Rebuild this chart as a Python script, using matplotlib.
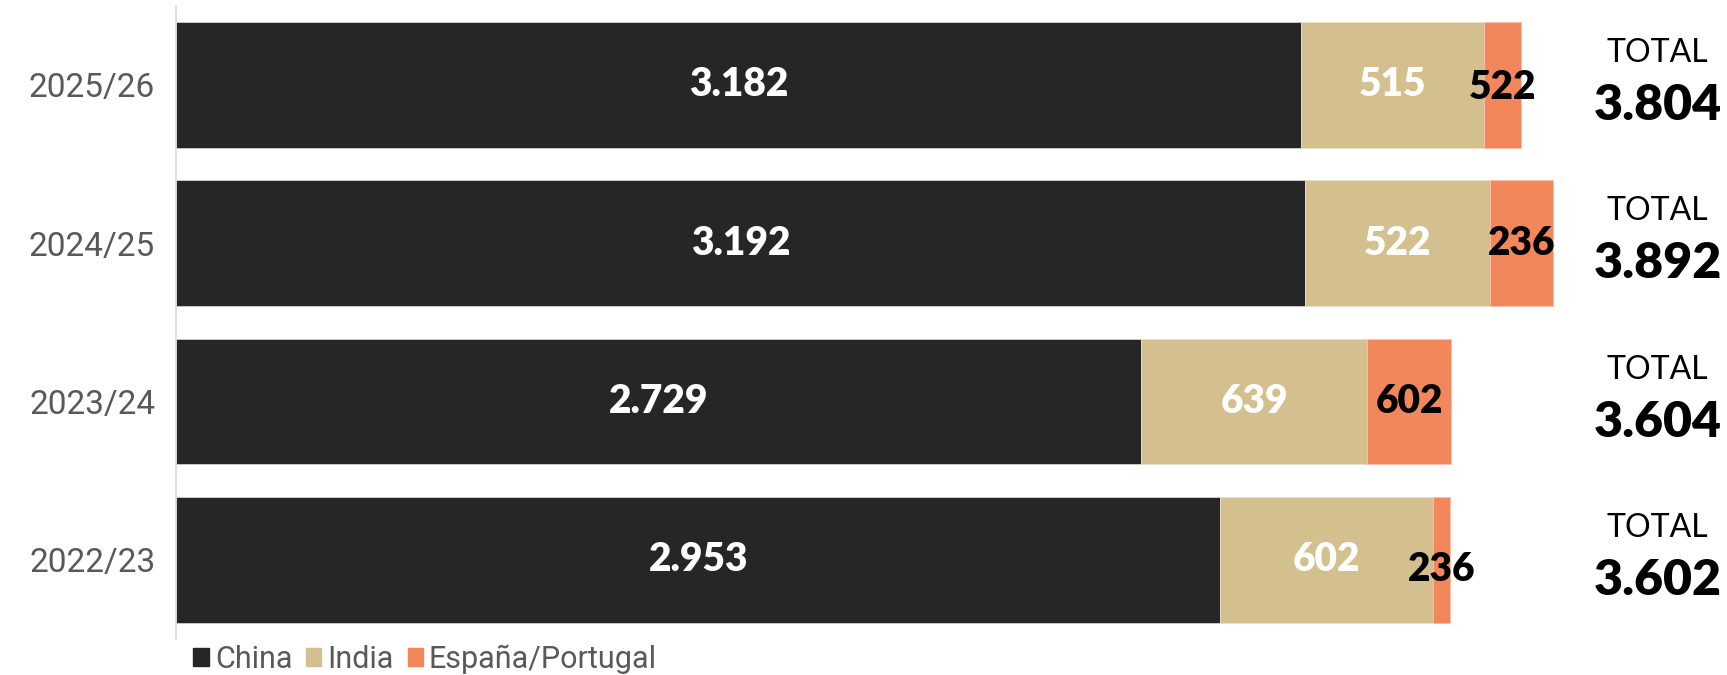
import matplotlib.pyplot as plt
from matplotlib.patches import Patch

years = ['2025/26', '2024/25', '2023/24', '2022/23']
china = [3182, 3192, 2729, 2953]
india = [515, 522, 639, 602]
espana = [107, 178, 236, 47]
# labels printed on the España/Portugal segments (as shown in the source)
espana_labels = ['522', '236', '602', '236']

c_china = '#262626'
c_india = '#D4C08F'
c_esp = '#F3875C'

label_font = ['Roboto', 'DejaVu Sans']
bold_font = ['Lato', 'DejaVu Sans']


def fmt(v):
    return f'{v:,}'.replace(',', '.')


fig = plt.figure(figsize=(17.27, 6.75), dpi=100)
ax = fig.add_axes([0.1019, 0.0533, 0.8981, 0.9385])

y = list(range(len(years)))
h = 0.793
ax.barh(y, china, height=h, color=c_china, edgecolor='#cfcfcf', linewidth=0.6)
ax.barh(y, india, left=china, height=h, color=c_india, edgecolor='#eadfc6', linewidth=0.6)
left3 = [a + b for a, b in zip(china, india)]
ax.barh(y, espana, left=left3, height=h, color=c_esp, edgecolor='#f6c0aa', linewidth=0.6)

# the small orange labels sit a touch lower in the original
esp_dy = [0.02, 0.0, 0.0, 0.06]

for i in y:
    ax.text(china[i] / 2, i, fmt(china[i]), ha='center', va='center',
            color='white', fontsize=28, fontweight='heavy', family=bold_font)
    ax.text(china[i] + india[i] / 2, i, fmt(india[i]), ha='center', va='center',
            color='white', fontsize=28, fontweight='heavy', family=bold_font)
    ax.text(left3[i] + espana[i] / 2, i + esp_dy[i], espana_labels[i], ha='center', va='center',
            color='black', fontsize=28, fontweight='heavy', family=bold_font)
    total = china[i] + india[i] + espana[i]
    ax.text(4189, i - 0.2, 'TOTAL', ha='center', va='center',
            color='black', fontsize=23, family=bold_font)
    ax.text(4189, i + 0.13, fmt(total), ha='center', va='center',
            color='black', fontsize=36, fontweight='heavy', family=bold_font)

ax.set_xlim(0, 4385)
ax.set_ylim(3.5, -0.5)
ax.set_yticks(y)
ax.set_yticklabels(years, family=label_font, fontsize=24, color='#595959')
ax.tick_params(axis='y', length=0, pad=15)
ax.set_xticks([])
for s in ['top', 'right', 'bottom']:
    ax.spines[s].set_visible(False)
ax.spines['left'].set_color('#d9d9d9')
ax.spines['left'].set_linewidth(1.2)

handles = [Patch(color=c_china, label='China'),
           Patch(color=c_india, label='India'),
           Patch(color=c_esp, label='España/Portugal')]
fig.legend(handles=handles, loc='lower left', bbox_to_anchor=(0.112, 0.002),
           ncol=3, frameon=False, handlelength=0.5, handleheight=0.5,
           handletextpad=0.2, columnspacing=0.45, borderpad=0, borderaxespad=0,
           prop={'family': label_font, 'size': 22}, labelcolor='#595959')

fig.savefig('out.png', dpi=100)
